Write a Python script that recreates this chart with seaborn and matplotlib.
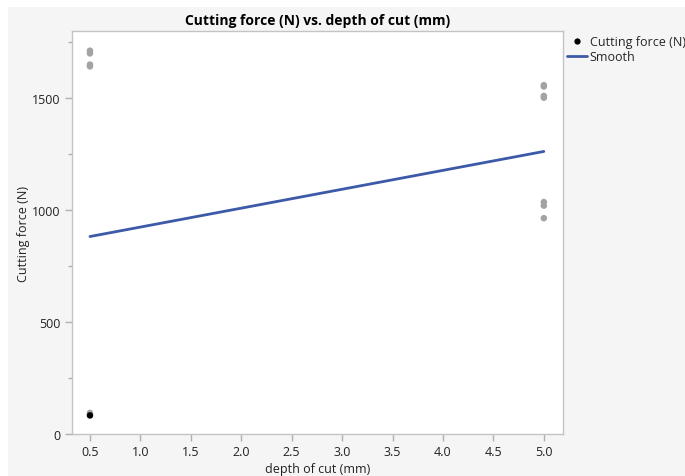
import matplotlib
matplotlib.use("Agg")
import matplotlib.pyplot as plt
import seaborn as sns
import pandas as pd
from matplotlib.patches import Rectangle
from matplotlib.lines import Line2D

# Data
gray_x = [0.5, 0.5, 0.5, 0.5, 0.5, 5.0, 5.0, 5.0, 5.0, 5.0, 5.0, 5.0]
gray_y = [1712, 1700, 1650, 1642, 94, 1558, 1552, 1510, 1502, 1036, 1020, 964]
black_x = [0.5]
black_y = [83]
smooth_x = [0.5, 5.0]
smooth_y = [882, 1262]
x_ticks = [0.5, 1.0, 1.5, 2.0, 2.5, 3.0, 3.5, 4.0, 4.5, 5.0]
y_ticks = [0, 500, 1000, 1500]
y_minor_ticks = [250, 750, 1250, 1750]

sns.set_theme(style="white")
plt.rcParams['font.family'] = ['Open Sans', 'DejaVu Sans']

fig = plt.figure(figsize=(6.85, 4.77), dpi=100)
fig.patch.set_facecolor("white")
fig.add_artist(Rectangle((8/685, 0), 1 - 8/685, 1 - 8/477, transform=fig.transFigure,
                         facecolor="#f5f5f5", edgecolor="none", zorder=-10))

W, H = 685, 477
left, right, top, bottom = 72, 562.5, 32, 435
ax = fig.add_axes([left / W, 1 - bottom / H, (right - left) / W, (bottom - top) / H])
ax.set_facecolor("white")

gdf = pd.DataFrame({"x": gray_x, "y": gray_y})
bdf = pd.DataFrame({"x": black_x, "y": black_y})
sdf = pd.DataFrame({"x": smooth_x, "y": smooth_y})

sns.scatterplot(data=gdf, x="x", y="y", ax=ax, color="#a3a3a3", s=22, edgecolor="none", zorder=3)
sns.scatterplot(data=bdf, x="x", y="y", ax=ax, color="black", s=22, edgecolor="none", zorder=4)
sns.lineplot(data=sdf, x="x", y="y", ax=ax, color="#3d5aa8", linewidth=2, zorder=5)

ax.set_xlim(0.322, 5.185)
ax.set_ylim(0, 1800)
ax.set_xticks(x_ticks)
ax.set_xticklabels([f"{v:.1f}" for v in x_ticks])
ax.set_yticks(y_ticks)
ax.set_yticklabels([str(v) for v in y_ticks])
ax.set_yticks(y_minor_ticks, minor=True)

for s in ax.spines.values():
    s.set_color("#c4c4c4")
    s.set_linewidth(1.0)
ax.tick_params(axis="both", which="major", direction="out", length=5, width=1,
               color="#b0b0b0", labelsize=9, labelcolor="#222222", pad=3,
               bottom=True, left=True)
ax.tick_params(axis="y", which="minor", direction="out", length=3, width=1,
               color="#b0b0b0", left=True)

ax.set_xlabel("depth of cut (mm)", fontsize=9, color="#222222", labelpad=3)
ax.set_ylabel("Cutting force (N)", fontsize=9, color="#222222", labelpad=2)
ax.set_title("Cutting force (N) vs. depth of cut (mm)", fontsize=10, fontweight="bold",
             color="black", pad=5)

handles = [
    Line2D([0], [0], marker="o", color="none", markerfacecolor="black",
           markeredgecolor="none", markersize=4.5, label="Cutting force (N)"),
    Line2D([0], [0], color="#3d5aa8", linewidth=2, label="Smooth"),
]
fig.legend(handles=handles, loc="upper left", bbox_to_anchor=(567 / W, 1 - 36 / H),
           frameon=False, fontsize=9, handlelength=1.6, handletextpad=0.2,
           labelspacing=0.15, borderaxespad=0, borderpad=0)

fig.savefig("out.png", dpi=100, facecolor=fig.get_facecolor())
